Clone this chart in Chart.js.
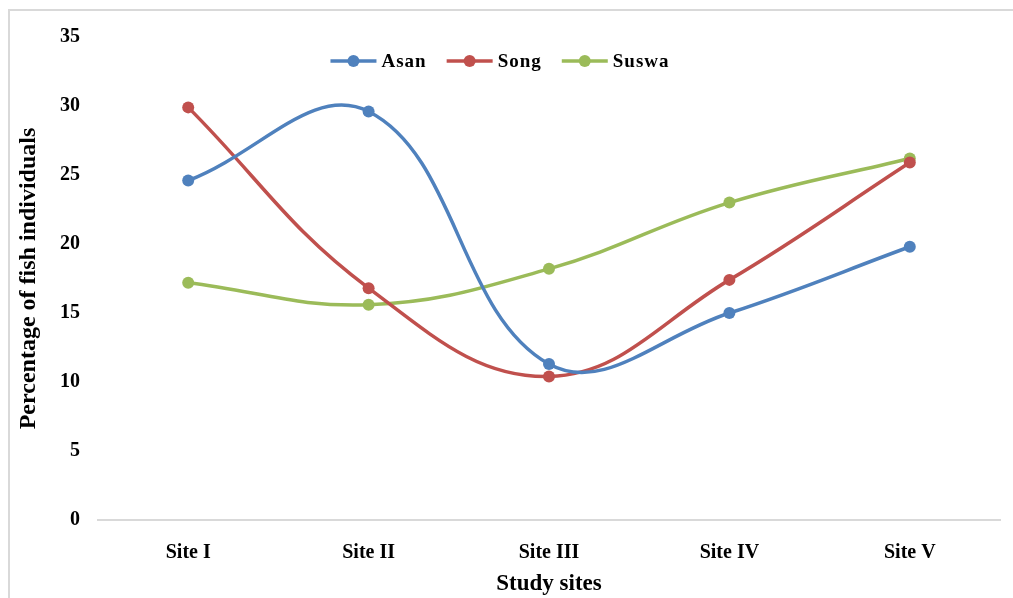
<!DOCTYPE html>
<html>
<head>
<meta charset="utf-8">
<script src="https://cdn.jsdelivr.net/npm/chart.js@4"></script>
<style>
  html, body { margin: 0; padding: 0; background: #ffffff; overflow: hidden; }
  #wrap { position: relative; width: 1013px; height: 598px; }
  #frame { position: absolute; left: 8px; top: 9px; width: 1100px; height: 700px;
           border: 2px solid #d9d9d9; box-sizing: border-box; }
  canvas { position: absolute; left: 0; top: 0; }
</style>
</head>
<body>
<div id="wrap">
  <div id="frame"></div>
  <canvas id="c" width="1013" height="598"></canvas>
</div>
<script>
// Share of fish individuals (%) per river at each study site
const sites = ['Site I', 'Site II', 'Site III', 'Site IV', 'Site V'];
const asan  = [24.6, 29.6, 11.3, 15.0, 19.8];
const song  = [29.9, 16.8, 10.4, 17.4, 25.9];
const suswa = [17.2, 15.6, 18.2, 23.0, 26.2];
const yTicks = [0, 5, 10, 15, 20, 25, 30, 35];

const serif = "'Liberation Serif', 'Times New Roman', serif";

function series(label, data, color) {
  return {
    label, data,
    borderColor: color,
    backgroundColor: color,
    borderWidth: 3.5,
    pointRadius: 6,
    pointHoverRadius: 6,
    pointBorderWidth: 0,
    tension: 0.4,
    fill: false
  };
}

// Legend drawn inside the plot area, centred near the top
const innerLegend = {
  id: 'innerLegend',
  afterDraw(chart, args, opts) {
    const ctx = chart.ctx;
    ctx.save();
    ctx.font = opts.font;
    ctx.letterSpacing = opts.letterSpacing;
    const items = chart.data.datasets.map(ds => ({
      label: ds.label, color: ds.borderColor,
      w: opts.lineLen + opts.textGap + ctx.measureText(ds.label).width
    }));
    const total = items.reduce((s, it) => s + it.w, 0) + opts.itemGap * (items.length - 1);
    let x = opts.centerX - total / 2;
    const y = opts.y;
    items.forEach(it => {
      ctx.strokeStyle = it.color;
      ctx.lineWidth = 3.5;
      ctx.beginPath();
      ctx.moveTo(x, y);
      ctx.lineTo(x + opts.lineLen, y);
      ctx.stroke();
      ctx.fillStyle = it.color;
      ctx.beginPath();
      ctx.arc(x + opts.lineLen / 2, y, 6, 0, Math.PI * 2);
      ctx.fill();
      ctx.fillStyle = '#000000';
      ctx.textBaseline = 'middle';
      ctx.textAlign = 'left';
      ctx.fillText(it.label, x + opts.lineLen + opts.textGap, y + 1);
      x += it.w + opts.itemGap;
    });
    ctx.restore();
  }
};

new Chart(document.getElementById('c'), {
  type: 'line',
  data: {
    labels: sites,
    datasets: [
      series('Asan', asan, '#4f81bd'),
      series('Song', song, '#c0504d'),
      series('Suswa', suswa, '#9bbb59')
    ]
  },
  options: {
    responsive: false,
    animation: false,
    events: [],
    layout: { padding: { left: 0, right: 13, top: 37, bottom: 0 } },
    plugins: {
      legend: { display: false },
      tooltip: { enabled: false },
      innerLegend: {
        font: `bold 19px ${serif}`,
        letterSpacing: '1px',
        lineLen: 46,
        textGap: 5,
        itemGap: 20,
        centerX: 500,
        y: 61
      }
    },
    scales: {
      x: {
        offset: true,
        grid: { display: false, drawTicks: false },
        border: { display: true, color: '#d9d9d9', width: 2 },
        ticks: {
          color: '#000000',
          padding: 21,
          font: { family: serif, size: 20, weight: 'bold' }
        },
        title: {
          display: true,
          text: 'Study sites',
          color: '#000000',
          padding: { top: 0, bottom: 0 },
          font: { family: serif, size: 23, weight: 'bold' }
        },
        afterFit(scale) { scale.height = 78; }
      },
      y: {
        min: 0,
        max: 35,
        afterBuildTicks(scale) { scale.ticks = yTicks.map(v => ({ value: v })); },
        grid: { display: false, drawTicks: false },
        border: { display: false },
        ticks: {
          color: '#000000',
          padding: 18,
          font: { family: serif, size: 20, weight: 'bold' }
        },
        title: {
          display: true,
          text: 'Percentage of fish individuals',
          color: '#000000',
          padding: { top: 14, bottom: 0 },
          font: { family: serif, size: 24, weight: 'bold' }
        },
        afterFit(scale) { scale.width = 98; }
      }
    }
  },
  plugins: [innerLegend]
});
</script>
</body>
</html>
